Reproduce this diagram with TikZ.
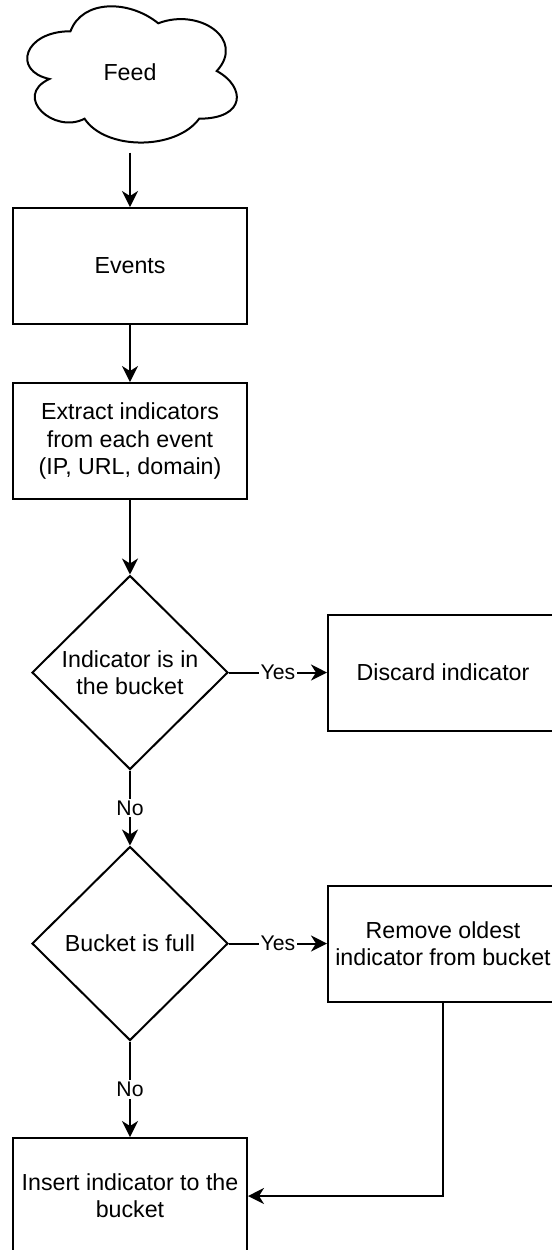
\documentclass[tikz,border=0pt]{standalone}
\usepackage{fontspec}
\setmainfont{Liberation Sans}
\usetikzlibrary{shapes.geometric, arrows.meta}
\tikzstyle{block} = [rectangle,draw,text centered,align=center,minimum width=117pt,minimum height=58pt,inner sep=0pt]
\tikzstyle{decision} = [diamond,draw,text centered,align=center,minimum width=98pt,minimum height=97pt,inner sep=0pt,aspect=1]
\tikzstyle{flow} = [draw,-{Stealth[length=8pt,width=8pt,inset=2.5pt]}]
\tikzstyle{answer} = [fill=white,inner sep=1pt,font=\fontsize{10.6}{12}\selectfont]

\begin{document}
\begin{tikzpicture}[line width=1pt, font=\fontsize{11.6}{13.6}\selectfont]
	\useasboundingbox (-65pt,36pt) rectangle (211pt,-589pt);
	\node [minimum width=117pt,minimum height=79.5pt](feed){Feed};
	% cloud outline drawn inside the feed node
	\draw[shift={(feed.north west)},x=117pt,y=-79.5pt] (.25,.25) .. controls (.05,.25) and (0,.5) .. (.16,.55)
		.. controls (0,.66) and (.18,.9) .. (.31,.8) .. controls (.4,1) and (.7,1) .. (.8,.8)
		.. controls (1,.8) and (1,.6) .. (.875,.5) .. controls (1,.3) and (.8,.1) .. (.625,.2)
		.. controls (.5,.05) and (.3,.05) .. (.25,.25) -- cycle;
	\node [block,below of=feed,node distance=97pt](events){Events};
	\node [block,below of=events,node distance=87.5pt](extract){Extract indicators\\from each event\\(IP, URL, domain)};
	\node [decision,below of=extract,node distance=115.75pt](inbucket){Indicator is in\\the bucket};
	\node [block,right of=inbucket,node distance=156.5pt,minimum width=115pt](discard){Discard indicator};
	\node [decision,below of=inbucket,node distance=135.5pt](full){Bucket is full};
	\node [block,right of=full,node distance=156.5pt,minimum width=115pt](remove){Remove oldest\\indicator from bucket};
	\node [block,below of=full,node distance=126.25pt](insert){Insert indicator to the\\bucket};

	\draw[flow](feed)--(events);
	\draw[flow](events)--(extract);
	\draw[flow](extract)--(inbucket);
	\draw[flow](inbucket)--node[answer]{Yes}(discard);
	\draw[flow](inbucket)--node[answer]{No}(full);
	\draw[flow](full)--node[answer]{Yes}(remove);
	\draw[flow](full)--node[answer]{No}(insert);
	\draw[flow](remove)|-(insert);
\end{tikzpicture}
\end{document}
